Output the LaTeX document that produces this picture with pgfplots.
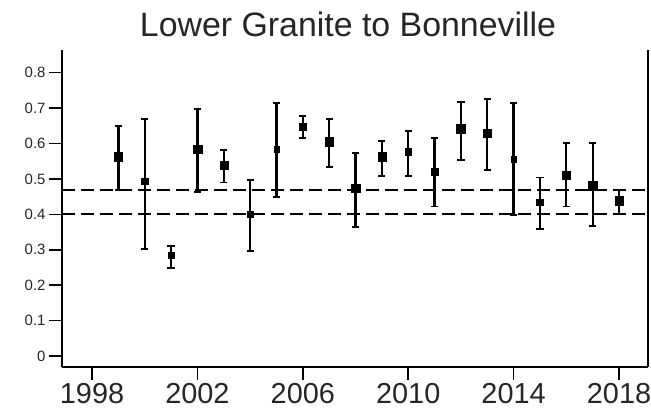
\documentclass[border=0pt]{standalone}
\usepackage{pgfplots}
\pgfplotsset{compat=1.18}
\usepackage{pgfplotstable}
\usepackage{fontspec}
\setmainfont{Liberation Sans}

\pgfplotstableread{
x     y      lo     hi     ms
1999  0.563  0.469  0.650  4.3
2000  0.494  0.302  0.669  3.3
2001  0.285  0.248  0.311  2.7
2002  0.584  0.464  0.698  4.3
2003  0.538  0.490  0.582  4.0
2004  0.400  0.297  0.497  3.3
2005  0.584  0.450  0.714  2.7
2006  0.648  0.615  0.678  3.3
2007  0.604  0.533  0.669  4.4
2008  0.474  0.365  0.573  4.4
2009  0.563  0.509  0.608  4.1
2010  0.577  0.509  0.636  3.4
2011  0.521  0.422  0.615  3.4
2012  0.641  0.554  0.718  4.4
2013  0.629  0.525  0.726  4.4
2014  0.556  0.398  0.714  2.8
2015  0.434  0.359  0.504  3.3
2016  0.511  0.422  0.601  4.3
2017  0.481  0.367  0.601  4.3
2018  0.439  0.401  0.469  4.3
}\datatable

\begin{document}
\begin{tikzpicture}
\begin{axis}[
  name=ax,
  scale only axis,
  width=586bp, height=317bp,
  xmin=1996.86, xmax=2019.1,
  ymin=-0.031, ymax=0.864,
  axis x line*=bottom,
  axis y line*=left,
  axis line style={-, line width=1.8bp, black},
  tick align=outside,
  major tick length=13bp,
  tick style={line width=1.5bp, black},
  xtick={1998,2002,2006,2010,2014,2018},
  xticklabels={1998,2002,2006,2010,2014,2018},
  ytick={0,0.1,0.2,0.3,0.4,0.5,0.6,0.7,0.8},
  yticklabels={0,0.1,0.2,0.3,0.4,0.5,0.6,0.7,0.8},
  xticklabel style={font=\fontsize{29}{32}\selectfont, text=black!85},
  yticklabel style={font=\fontsize{15}{17}\selectfont, text=black!85},
  /pgf/number format/assume math mode=true,
  title={Lower Granite to Bonneville},
  title style={font=\fontsize{34}{40}\selectfont, text=black!85, at={(0.5,1)}, anchor=base, yshift=8bp, xshift=-7bp},
  clip=false,
]
\addplot[black, line width=1.8bp, dash pattern=on 13bp off 6bp] coordinates {(1996.86,0.469) (2019.1,0.469)};
\addplot[black, line width=1.8bp, dash pattern=on 13bp off 6bp] coordinates {(1996.86,0.400) (2019.1,0.400)};
\addplot[black, only marks, mark=none,
  error bars/.cd, y dir=both, y explicit,
  error bar style={draw=black, line width=2.3bp, solid}]
  table[x=x, y=y, y error plus expr=\thisrow{hi}-\thisrow{y}, y error minus expr=\thisrow{y}-\thisrow{lo}] {\datatable};
\addplot[black, only marks, mark=-, mark size=3.6bp, mark options={line width=1.8bp, solid}]
  table[x=x, y=hi] {\datatable};
\addplot[black, only marks, mark=-, mark size=3.6bp, mark options={line width=1.8bp, solid}]
  table[x=x, y=lo] {\datatable};
\addplot[scatter, only marks, mark=square*,
  scatter/use mapped color={draw=black, fill=black},
  visualization depends on={\thisrow{ms} \as \perpointms},
  scatter/@pre marker code/.append style={/tikz/mark size=\perpointms bp},
  mark options={line width=0.4bp}]
  table[x=x, y=y] {\datatable};
\draw[line width=1.8bp, black] (rel axis cs:1,0) -- (rel axis cs:1,1);
\end{axis}
\pgfresetboundingbox
\useasboundingbox ([shift={(-62bp,-49bp)}]ax.south west) rectangle ([shift={(3bp,50bp)}]ax.north east);
\end{tikzpicture}
\end{document}
